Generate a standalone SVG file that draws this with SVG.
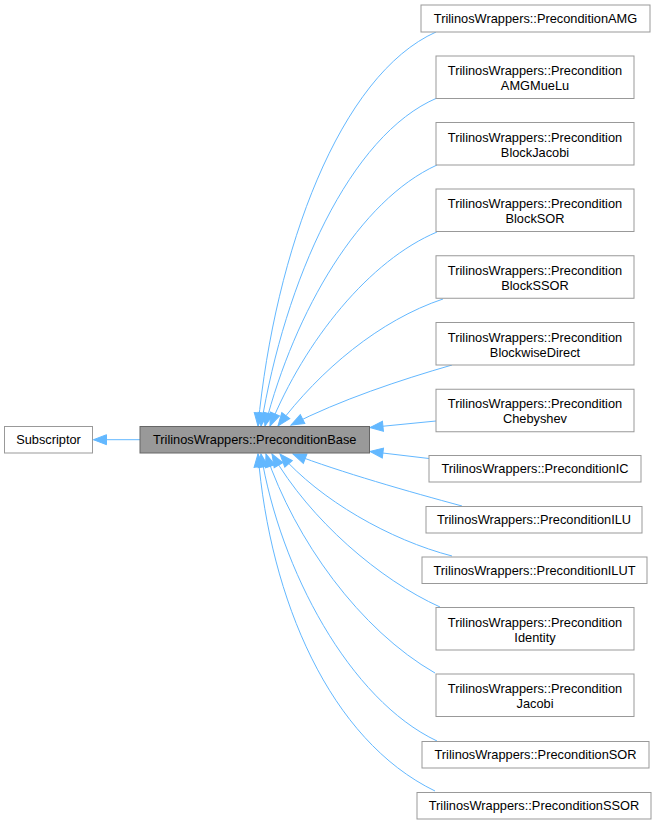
<svg xmlns="http://www.w3.org/2000/svg" width="659" height="824" viewBox="0 0 659 824">
<style>
.n rect{fill:#ffffff;stroke:#999999;stroke-width:1}
.b rect{fill:#999999;stroke:#666666;stroke-width:1}
text{font-family:"Liberation Sans",Arial,sans-serif;font-size:12.8px;fill:#000000;text-anchor:middle}
.e path{fill:none;stroke:#63b8ff;stroke-width:1;marker-end:url(#ah)}
</style>
<defs>
<marker id="ah" markerUnits="userSpaceOnUse" markerWidth="14" markerHeight="12" refX="13" refY="5.5" orient="auto" overflow="visible">
<path d="M0,0.5 L13,5.5 L0,10.5 z" fill="#63b8ff" stroke="#63b8ff" stroke-width="1"/>
</marker>
</defs>
<rect width="659" height="824" fill="#ffffff"/>
<g id="edges" class="e">
<path d="M140,439.7 L93.5,439.7"/>
<path d="M436,32 C340,75 275,250 258,426"/>
<path d="M437,98 C350,135 285,280 261,426"/>
<path d="M437,165 C360,200 295,310 265,426"/>
<path d="M437,232 C370,260 305,340 270,426"/>
<path d="M443,299 C380,320 320,370 278,426"/>
<path d="M452,365 C400,380 340,400 291,425"/>
<path d="M436,421 L370,427.5"/>
<path d="M429,458.5 L370,451.5"/>
<path d="M462,506 C410,492 340,472 293,454"/>
<path d="M452,556 C390,540 320,500 280,454"/>
<path d="M440,607 C380,580 310,520 272,454"/>
<path d="M435,673 C360,630 295,540 266,454"/>
<path d="M437,741 C350,700 280,570 261,454"/>
<path d="M435,791 C330,740 270,600 258,454"/>
</g>
<g id="Subscriptor" class="n"><rect x="4.5" y="426.5" width="88" height="26.5"/><text x="48.5" y="444.3">Subscriptor</text></g>
<g id="PreconditionBase" class="b"><rect x="140" y="426.5" width="229.5" height="26.5"/><text x="254.7" y="444.3">TrilinosWrappers::PreconditionBase</text></g>
<g id="PreconditionAMG" class="n"><rect x="421" y="5" width="229" height="27"/><text x="535.5" y="23.3">TrilinosWrappers::PreconditionAMG</text></g>
<g id="PreconditionAMGMueLu" class="n"><rect x="436" y="56" width="198" height="42.5"/><text x="535" y="75">TrilinosWrappers::Precondition</text><text x="535" y="90">AMGMueLu</text></g>
<g id="PreconditionBlockJacobi" class="n"><rect x="436" y="122.5" width="198" height="42.5"/><text x="535" y="141.5">TrilinosWrappers::Precondition</text><text x="535" y="156.5">BlockJacobi</text></g>
<g id="PreconditionBlockSOR" class="n"><rect x="436" y="189" width="198" height="42.5"/><text x="535" y="208">TrilinosWrappers::Precondition</text><text x="535" y="223">BlockSOR</text></g>
<g id="PreconditionBlockSSOR" class="n"><rect x="436" y="255.75" width="198" height="42.5"/><text x="535" y="274.75">TrilinosWrappers::Precondition</text><text x="535" y="289.75">BlockSSOR</text></g>
<g id="PreconditionBlockwiseDirect" class="n"><rect x="436" y="322.5" width="198" height="42.5"/><text x="535" y="341.5">TrilinosWrappers::Precondition</text><text x="535" y="356.5">BlockwiseDirect</text></g>
<g id="PreconditionChebyshev" class="n"><rect x="436" y="389.25" width="198" height="42.5"/><text x="535" y="408.25">TrilinosWrappers::Precondition</text><text x="535" y="423.25">Chebyshev</text></g>
<g id="PreconditionIC" class="n"><rect x="429" y="455.5" width="212" height="26.5"/><text x="535" y="473.3">TrilinosWrappers::PreconditionIC</text></g>
<g id="PreconditionILU" class="n"><rect x="426" y="506.5" width="216" height="26.5"/><text x="534" y="524.3">TrilinosWrappers::PreconditionILU</text></g>
<g id="PreconditionILUT" class="n"><rect x="422" y="557" width="225" height="26.5"/><text x="534.5" y="574.8">TrilinosWrappers::PreconditionILUT</text></g>
<g id="PreconditionIdentity" class="n"><rect x="436" y="607.5" width="198" height="42.5"/><text x="535" y="626.5">TrilinosWrappers::Precondition</text><text x="535" y="641.5">Identity</text></g>
<g id="PreconditionJacobi" class="n"><rect x="436" y="674" width="198" height="42.5"/><text x="535" y="693">TrilinosWrappers::Precondition</text><text x="535" y="708">Jacobi</text></g>
<g id="PreconditionSOR" class="n"><rect x="422" y="741.5" width="227" height="26.5"/><text x="535.5" y="759.3">TrilinosWrappers::PreconditionSOR</text></g>
<g id="PreconditionSSOR" class="n"><rect x="417" y="792.5" width="234" height="26.5"/><text x="534" y="810.3">TrilinosWrappers::PreconditionSSOR</text></g>
</svg>
